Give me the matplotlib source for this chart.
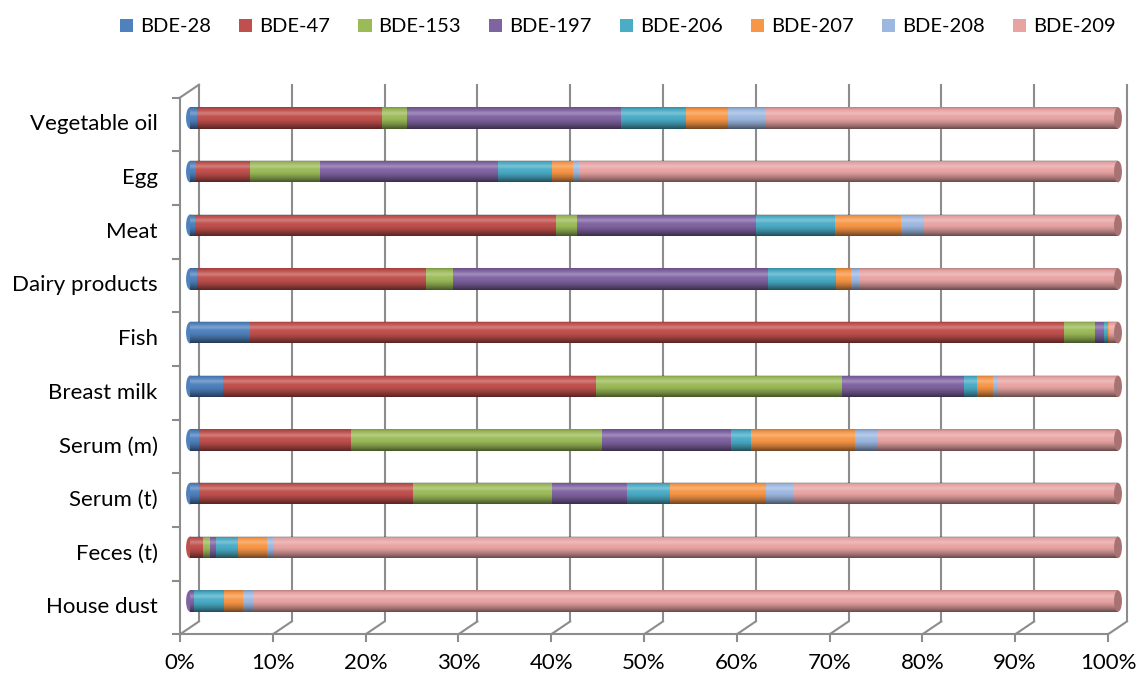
import numpy as np
import matplotlib
matplotlib.use("Agg")
import matplotlib.pyplot as plt
from matplotlib.patches import Ellipse, Patch

plt.rcParams['font.family'] = ['Lato', 'DejaVu Sans']

# Sample types, bottom to top
CATEGORIES = ["House dust", "Feces (t)", "Serum (t)", "Serum (m)", "Breast milk",
              "Fish", "Dairy products", "Meat", "Egg", "Vegetable oil"]
CONGENERS = ["BDE-28", "BDE-47", "BDE-153", "BDE-197",
             "BDE-206", "BDE-207", "BDE-208", "BDE-209"]

# Congener profile (% of total PBDE), same order as CATEGORIES
BDE_28 = [0.0, 0.0, 1.0, 1.0, 3.6, 6.5, 0.8, 0.5, 0.6, 0.8]
BDE_47 = [0.0, 1.4, 23.0, 16.3, 40.2, 87.7, 24.6, 38.9, 5.9, 19.9]
BDE_153 = [0.0, 0.8, 15.0, 27.1, 26.5, 3.3, 2.9, 2.3, 7.5, 2.7]
BDE_197 = [0.4, 0.6, 8.1, 13.9, 13.1, 1.0, 34.0, 19.3, 19.2, 23.0]
BDE_206 = [3.3, 2.4, 4.6, 2.2, 1.4, 0.4, 7.3, 8.5, 5.8, 7.1]
BDE_207 = [2.0, 3.1, 10.4, 11.2, 1.7, 0.1, 1.6, 7.1, 2.3, 4.5]
BDE_208 = [1.1, 0.8, 2.9, 2.4, 0.5, 0.1, 0.9, 2.5, 0.6, 4.1]
BDE_209 = [93.2, 90.9, 35.0, 25.9, 13.0, 0.9, 27.9, 20.9, 58.1, 37.9]

COLORS = ["#4F81BD", "#C0504D", "#9BBB59", "#8064A2",
          "#4BACC6", "#F79646", "#9DB8E0", "#E8A3A3"]
CAP_COLOR = "#A87272"
GRID_COLOR = "#8C8C8C"
FS = 16

BAR_H = 0.40
CAP_W = 0.85
# offsets of the front and back planes of the 3-D box (data units)
DX_F, DY_F = -1.08, -0.12
DX_B, DY_B = 0.97, 0.12
FLOOR, TOP = -0.50, 9.5

data = np.array([BDE_28, BDE_47, BDE_153, BDE_197, BDE_206, BDE_207, BDE_208, BDE_209])
shares = data / data.sum(axis=0) * 100
y = np.arange(len(CATEGORIES))

fig = plt.figure(figsize=(11.38, 6.75), dpi=100)
ax = fig.add_axes([190 / 1138, 36.4 / 675, 928 / 1138, 558.2 / 675])
ax.axis('off')

# back wall gridlines, floor diagonals and x ticks
for k in range(11):
    x = 10 * k
    ax.plot([x + DX_B] * 2, [FLOOR + DY_B, TOP + DY_B], color=GRID_COLOR, lw=1.5, zorder=1,
            clip_on=False)
    ax.plot([x + DX_F, x + DX_B], [FLOOR + DY_F, FLOOR + DY_B], color=GRID_COLOR, lw=1.5, zorder=1,
            clip_on=False)
    ax.plot([x + DX_F] * 2, [FLOOR + DY_F, FLOOR + DY_F - 0.13], color=GRID_COLOR, lw=1.5,
            zorder=1, clip_on=False)
    ax.text(x + DX_F, -1.16, f"{x}%", ha='center', va='center', fontsize=FS, clip_on=False)

# front floor edge and left wall
ax.plot([DX_F, 100 + DX_F], [FLOOR + DY_F] * 2, color=GRID_COLOR, lw=1.5, zorder=1, clip_on=False)
ax.plot([DX_F] * 2, [FLOOR + DY_F, TOP + DY_F], color=GRID_COLOR, lw=1.5, zorder=1, clip_on=False)
ax.plot([DX_F, DX_B], [TOP + DY_F, TOP + DY_B], color=GRID_COLOR, lw=1.5, zorder=1, clip_on=False)
for j in range(len(CATEGORIES) + 1):
    yb = j - 0.5 + DY_F
    ax.plot([DX_F - 0.8, DX_F], [yb, yb], color=GRID_COLOR, lw=1.5, zorder=1, clip_on=False)

# stacked cylinders
left = np.zeros(len(CATEGORIES))
for name, vals, col in zip(CONGENERS, shares, COLORS):
    ax.barh(y, vals, left=left, height=BAR_H, color=col, edgecolor='none', zorder=3)
    left += vals

# cylinder shading: dark lower half, soft highlight near the top
t = np.linspace(0, 1, 64)
dark = 0.55 * np.clip((0.5 - t) / 0.5, 0, 1) ** 1.4 + 0.2 * np.clip((t - 0.88) / 0.12, 0, 1)
light = 0.25 * np.exp(-((t - 0.72) / 0.1) ** 2)
dark_img = np.zeros((64, 1, 4))
dark_img[:, 0, 3] = dark
light_img = np.ones((64, 1, 4))
light_img[:, 0, 3] = light


def shade(x0, x1, yc, clip=None):
    ext = (x0, x1, yc - BAR_H / 2, yc + BAR_H / 2)
    for img in (dark_img, light_img):
        im = ax.imshow(img, extent=ext, aspect='auto', origin='lower', zorder=4,
                       interpolation='bilinear')
        if clip is not None:
            im.set_clip_path(clip)
            im.set_clip_on(True)


for i, yi in enumerate(y):
    first = next(c for v, c in zip(shares[:, i], COLORS) if v > 0)
    left_cap = Ellipse((0, yi), CAP_W, BAR_H, facecolor=first, edgecolor='none', zorder=2.9,
                       clip_on=False)
    ax.add_patch(left_cap)
    shade(-CAP_W / 2, 0, yi, clip=left_cap)
    shade(0, left[i], yi)
    ax.add_patch(Ellipse((left[i], yi), CAP_W, BAR_H, facecolor=CAP_COLOR, edgecolor='none', zorder=5,
                         clip_on=False))
    ax.text(DX_F - 2.4, yi + DY_F, CATEGORIES[i], ha='right', va='center', fontsize=FS, clip_on=False)

ax.set_xlim(0, 100)
ax.set_ylim(-0.7, 9.7)

handles = [Patch(facecolor=c, label=n) for n, c in zip(CONGENERS, COLORS)]
fig.legend(handles=handles, loc='center', bbox_to_anchor=(0.543, 0.96), ncol=8, frameon=False,
           fontsize=14.5, handlelength=0.65, handleheight=0.65, handletextpad=0.35, columnspacing=1.4)

fig.savefig("out.png", dpi=100)
